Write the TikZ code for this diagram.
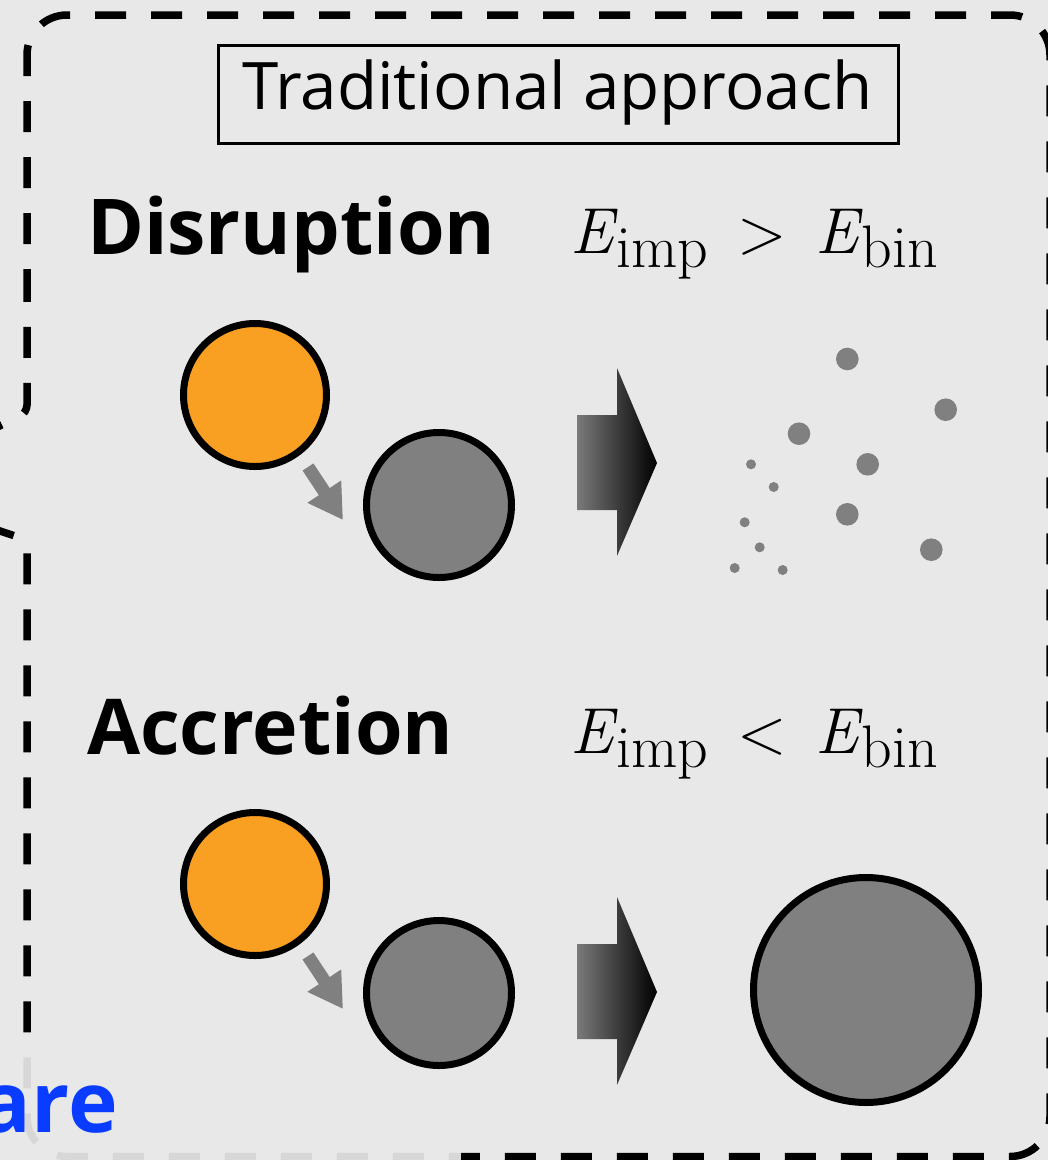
\documentclass[tikz,border=0pt]{standalone}
\usepackage{fontspec}
\setmainfont{Open Sans}
\newfontfamily\lmrfont{Latin Modern Roman}
\usetikzlibrary{arrows.meta}
\definecolor{bg}{HTML}{E8E8E8}
\definecolor{orng}{HTML}{F9A023}
\definecolor{midgray}{HTML}{808080}
\definecolor{linkblue}{HTML}{0A3CFF}
\definecolor{shaftgray}{HTML}{7A7A7A}
\newcommand{\energysub}[1]{\kern3pt\raisebox{-14pt}{\fontsize{60}{64}\selectfont #1}}
\newcommand{\energycond}[1]{{\itshape E}\energysub{imp}\hspace{29pt}#1\hspace{29pt}{\itshape E}\energysub{bin}}
\tikzset{
  panel/.style={draw=black, line width=7.5pt, dash pattern=on 31pt off 25pt},
  ball/.style={circle, draw=black, line width=7pt, inner sep=0pt},
  impactor/.style={ball, fill=orng, minimum size=143pt},
  target/.style={ball, fill=midgray, minimum size=145pt},
  merged/.style={ball, fill=midgray, minimum size=225pt},
  smallarrow/.style={draw=midgray, line width=13pt, -{Triangle[length=34pt,width=38pt]}},
  bigarrow/.style={left color=shaftgray, right color=black},
  debris/.style={fill=midgray},
  heading/.style={font=\bfseries\fontsize{77}{80}\selectfont, anchor=base west, inner sep=0pt},
  cond/.style={anchor=base west, inner sep=0pt, font=\lmrfont\fontsize{65}{70}\selectfont},
  titlebox/.style={draw=black, line width=3pt, minimum width=680pt, minimum height=98pt, inner sep=0pt},
  titletext/.style={anchor=base, inner sep=0pt, font=\fontsize{65.5}{70}\selectfont},
}
\begin{document}
\begin{tikzpicture}[x=1pt, y=-1pt]
\useasboundingbox (0,0) rectangle (1048,1160);
\fill[bg] (0,0) rectangle (1048,1160);
\begin{scope}
\clip (0,0) rectangle (1048,1160);
% dashed panel outline with the notch on the left
\draw[panel, rounded corners=40pt]
  (27,300) -- (27,15) -- (1050,15) -- (1050,1156.5) -- (27,1156.5)
  [rounded corners=8pt] -- (27,540) -- (-60,511) -- (-60,454) -- (27,413)
  [rounded corners=40pt] -- (27,300);
% faded overlay lower left (lies over the outline, under the content)
\fill[bg, opacity=0.93] (-10,1041) rectangle (461,1170);
% title
\node[titlebox] (titlebox) at (558,94) {};
\node[titletext] (title) at (557.5,109) {Traditional approach};
% Disruption row
\node[heading] (disr) at (87,254) {Disruption};
\node[cond] (cond1) at (570,253) {\energycond{>}};
\node[impactor] (imp1) at (255,395) {};
\node[target] (tgt1) at (439,505) {};
\coordinate (a1s) at (308,467);
\coordinate (a1e) at (343,520);
\draw[smallarrow] (a1s) -- (a1e);
\shade[bigarrow] (577,415) -- (617,415) -- (617,368) -- (657,463) -- (617,556) -- (617,510) -- (577,510) -- cycle;
\foreach \x/\y in {847.3/359, 945.7/409.7, 799/433.7, 867.7/464.3, 847.3/514.3, 931.3/549.7}
  \fill[debris] (\x,\y) circle (11.3pt);
\foreach \x/\y in {751/464.3, 773.7/487, 744.7/522.3, 759.7/547.3, 734.7/568, 782.7/570}
  \fill[debris] (\x,\y) circle (5pt);
% Accretion row
\node[heading] (accr) at (87,754) {Accretion};
\node[cond] (cond2) at (570,753) {\energycond{<}};
\node[impactor] (imp2) at (255,884) {};
\node[target] (tgt2) at (439,993) {};
\coordinate (a2s) at (308,956);
\coordinate (a2e) at (343,1009);
\draw[smallarrow] (a2s) -- (a2e);
\shade[bigarrow] (577,944) -- (617,944) -- (617,897) -- (657,992) -- (617,1085) -- (617,1039) -- (577,1039) -- cycle;
\node[merged] (big) at (866,990) {};
\node[anchor=base east, inner sep=0pt, text=linkblue, font=\bfseries\fontsize{84}{90}\selectfont] (are) at (118,1132) {are};
\end{scope}
\end{tikzpicture}
\end{document}
